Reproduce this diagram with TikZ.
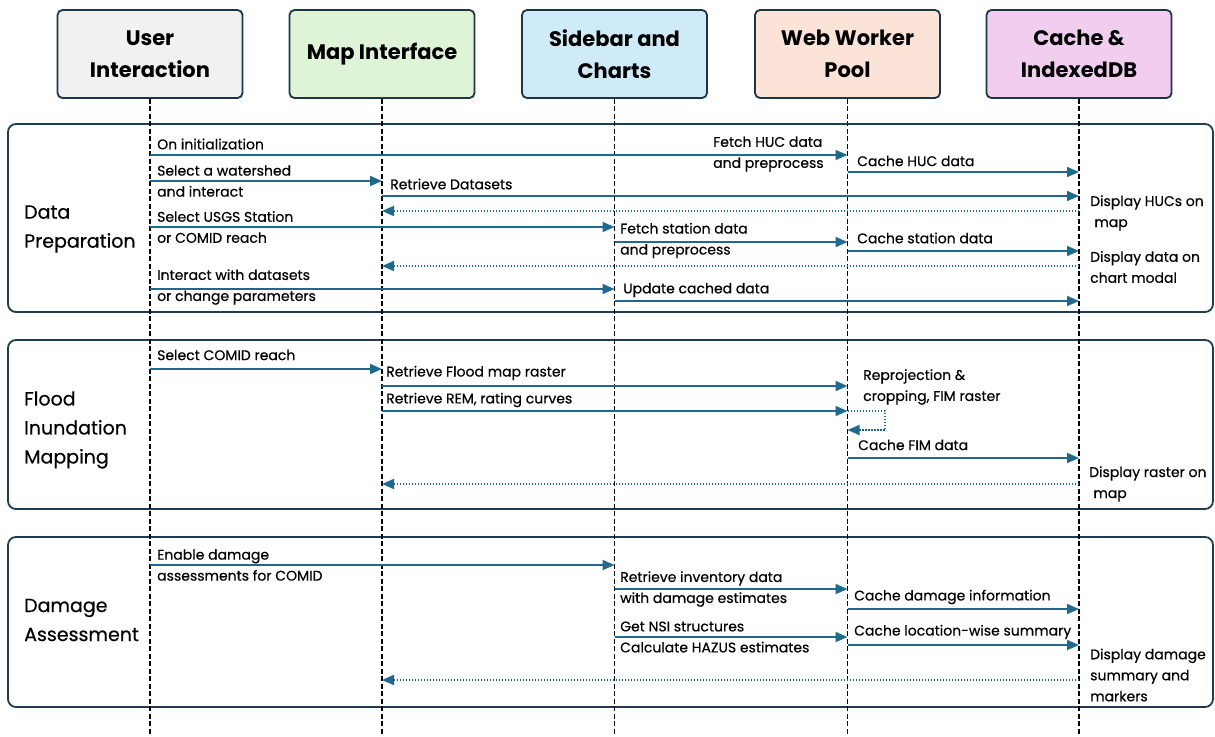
\documentclass[tikz,border=0pt]{standalone}
\usepackage{fontspec}
\setmainfont{Poppins}
\newfontfamily\medfont{Poppins}[FakeBold=0.4]
\usetikzlibrary{arrows.meta}
\definecolor{hdrline}{HTML}{1E3644}
\definecolor{frameline}{HTML}{1F3D4E}
\definecolor{arrowc}{HTML}{1F6A8C}
\definecolor{usrfill}{HTML}{F1F1F1}
\definecolor{mapfill}{HTML}{DFF3D6}
\definecolor{sidefill}{HTML}{CFEBF8}
\definecolor{wrkfill}{HTML}{FBE3D7}
\definecolor{cchfill}{HTML}{F1CDEF}
\begin{document}
\begin{tikzpicture}[x=1pt,y=-1pt,
  hdr/.style={draw=hdrline, line width=1.8pt, rounded corners=5pt,
    minimum width=185pt, minimum height=88pt, align=center,
    font=\fontsize{21}{32}\selectfont\bfseries},
  lane/.style={draw=frameline, line width=1.8pt, rounded corners=8pt, fill=white},
  life/.style={black, line width=1.6pt, dash pattern=on 5pt off 2.5pt},
  msg/.style={draw=arrowc, line width=1.8pt, -{Triangle[length=12pt,width=10pt]}},
  ret/.style={msg, dash pattern=on 1.5pt off 1.5pt},
  lbl/.style={anchor=west, inner sep=0pt, align=left,
    font=\medfont\fontsize{14}{21}\selectfont},
  sec/.style={anchor=west, inner sep=0pt, align=left,
    font=\medfont\fontsize{19}{29}\selectfont}]
\path[use as bounding box, fill=white] (0,0) rectangle (1215,736);

% participants
\node[hdr, fill=usrfill]  (u) at (150,54)  {User\\Interaction};
\node[hdr, fill=mapfill]  (m) at (382,54)  {Map Interface};
\node[hdr, fill=sidefill] (s) at (614.5,54) {Sidebar and\\Charts};
\node[hdr, fill=wrkfill]  (w) at (847.5,54) {Web Worker\\Pool};
\node[hdr, fill=cchfill]  (c) at (1079,54) {Cache \&\\IndexedDB};

% phase frames
\draw[lane] (8,124) rectangle (1213,312);
\draw[lane] (8,340) rectangle (1213,509);
\draw[lane] (8,537) rectangle (1213,707);

% lifelines
\foreach \p in {u,m,s,w,c}
  \draw[life] (\p.south) -- (\p.south |- 0,736);

% phase names
\node[sec] (p1) at (24,229) {Data\\Preparation};
\node[sec] (p2) at (24,430) {Flood\\Inundation\\Mapping};
\node[sec] (p3) at (24,620) {Damage\\Assessment};

% ---- Data Preparation ----
\draw[msg] (u.south |- 0,155) -- (w.south |- 0,155);
\node[lbl] at (157,144) {On initialization};
\node[lbl] at (713,154) {Fetch HUC data\\and preprocess};
\draw[msg] (w.south |- 0,172) -- (c.south |- 0,172);
\node[lbl] at (857,161) {Cache HUC data};
\draw[msg] (u.south |- 0,181) -- (m.south |- 0,181);
\node[lbl] at (157,181) {Select a watershed\\and interact};
\draw[msg] (m.south |- 0,196) -- (c.south |- 0,196);
\node[lbl] at (390,184) {Retrieve Datasets};
\draw[ret] (c.south |- 0,211) -- (m.south |- 0,211);
\node[lbl] at (1090,213) {Display HUCs on\\\hspace{0.3em}map};
\draw[msg] (u.south |- 0,227) -- (s.south |- 0,227);
\node[lbl] at (157,227) {Select USGS Station\\or COMID reach};
\draw[msg] (s.south |- 0,242) -- (w.south |- 0,242);
\node[lbl] at (620,240.5) {Fetch station data\\and preprocess};
\draw[msg] (w.south |- 0,251) -- (c.south |- 0,251);
\node[lbl] at (857,238) {Cache station data};
\draw[ret] (c.south |- 0,266) -- (m.south |- 0,266);
\node[lbl] at (1090,267) {Display data on\\chart modal};
\draw[msg] (u.south |- 0,289) -- (s.south |- 0,289);
\node[lbl] at (157,287) {Interact with datasets\\or change parameters};
\draw[msg] (s.south |- 0,301) -- (c.south |- 0,301);
\node[lbl] at (623,290) {Update cached data};

% ---- Flood Inundation Mapping ----
\draw[msg] (u.south |- 0,369) -- (m.south |- 0,369);
\node[lbl] at (157,355) {Select COMID reach};
\draw[msg] (m.south |- 0,386) -- (w.south |- 0,386);
\node[lbl] at (386,373) {Retrieve Flood map raster};
\draw[msg] (m.south |- 0,411) -- (w.south |- 0,411);
\node[lbl] at (386,400) {Retrieve REM, rating curves};
\coordinate (loopA) at (885,411);
\coordinate (loopB) at (885,430);
\draw[ret] (w.south |- loopA) -- (loopA) -- (loopB) -- (w.south |- loopB);
\node[lbl] at (863,387) {Reprojection \&\\cropping, FIM raster};
\draw[msg] (w.south |- 0,458) -- (c.south |- 0,458);
\node[lbl] at (858,445) {Cache FIM data};
\draw[ret] (c.south |- 0,484) -- (m.south |- 0,484);
\node[lbl] at (1089,484) {Display raster on\\\hspace{0.3em}map};

% ---- Damage Assessment ----
\draw[msg] (u.south |- 0,565) -- (s.south |- 0,565);
\node[lbl] at (157,565) {Enable damage\\assessments for COMID};
\draw[msg] (s.south |- 0,589) -- (w.south |- 0,589);
\node[lbl] at (620,589) {Retrieve inventory data\\with damage estimates};
\draw[msg] (w.south |- 0,609) -- (c.south |- 0,609);
\node[lbl] at (854,597) {Cache damage information};
\draw[msg] (s.south |- 0,637) -- (w.south |- 0,637);
\node[lbl] at (620,637) {Get NSI structures\\Calculate HAZUS estimates};
\draw[msg] (w.south |- 0,645) -- (c.south |- 0,645);
\node[lbl] at (854,632) {Cache location-wise summary};
\draw[ret] (c.south |- 0,680) -- (m.south |- 0,680);
\node[lbl] at (1090,675) {Display damage\\summary and\\markers};
\end{tikzpicture}
\end{document}
